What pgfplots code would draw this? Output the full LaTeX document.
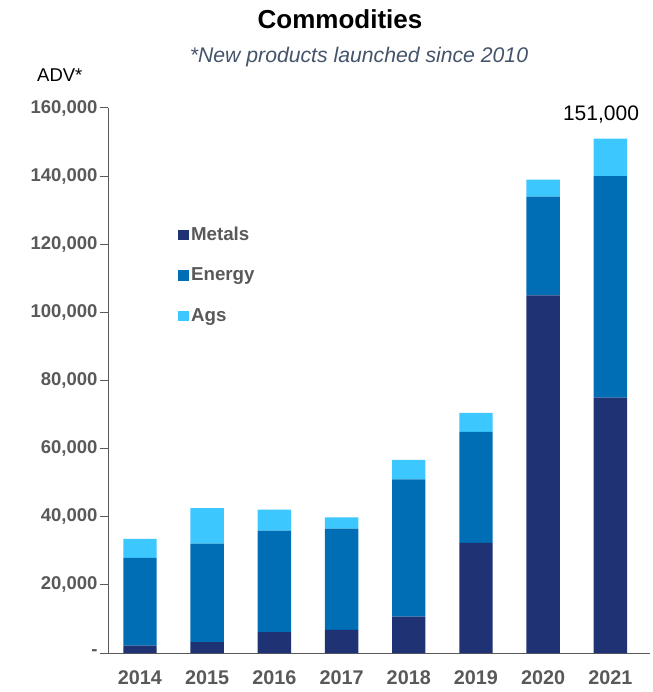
\documentclass[border=0pt]{standalone}
\usepackage{fontspec}
\setmainfont{Liberation Sans}
\usepackage{pgfplots}
\usepackage{pgfplotstable}
\pgfplotsset{compat=1.18}
\definecolor{metals}{HTML}{1F3273}
\definecolor{energy}{HTML}{006EB4}
\definecolor{ags}{HTML}{3CC8FF}
\definecolor{tickgray}{HTML}{595959}
\definecolor{subgray}{HTML}{44546A}
\definecolor{axisgray}{HTML}{595959}
\pgfplotstableread{
x metals energy ags
0 2200 25700 5600
1 3200 28900 10400
2 6100 29800 6200
3 6800 29700 3300
4 10700 40300 5700
5 32300 32600 5600
6 105000 29000 5000
7 75000 65000 11000
}\data
\begin{document}
\begin{tikzpicture}[x=1pt,y=1pt]
\useasboundingbox (0,0) rectangle (652,692);
\begin{axis}[
  at={(108pt,39pt)}, anchor=south west,
  scale only axis, width=542pt, height=545pt,
  ybar stacked, bar width=33.4pt,
  xmin=-0.476, xmax=7.59, ymin=0, ymax=160000,
  axis x line*=bottom, axis y line*=left,
  axis line style={-, draw=axisgray, line width=1pt},
  xtick={0,...,7},
  xticklabels={2014,2015,2016,2017,2018,2019,2020,2021},
  xtick style={draw=none},
  xticklabel style={anchor=base, yshift=-23pt, font=\fontsize{19.8}{22}\selectfont\bfseries, text=tickgray},
  ytick={0,20000,40000,60000,80000,100000,120000,140000,160000},
  yticklabels={{-},{20,000},{40,000},{60,000},{80,000},{100,000},{120,000},{140,000},{160,000}},
  ytick style={draw=axisgray, line width=1pt},
  tick align=outside, major tick length=8pt,
  yticklabel style={anchor=east, xshift=1pt, font=\fontsize{18.5}{22}\selectfont\bfseries, text=tickgray},
  scaled y ticks=false,
  legend style={at={(0.129,0.79)}, anchor=north west, draw=none, fill=none,
    font=\fontsize{18.7}{22}\selectfont\bfseries, text=tickgray,
    row sep=15.5pt, inner sep=0pt,
    nodes={inner sep=2.5pt, text height=15pt, text depth=5pt}},
  legend cell align=left,
]
\addplot[fill=metals, draw=none, legend image code/.code={\fill[metals] (0pt,-5pt) rectangle (10.5pt,5.5pt);}] table[x=x,y=metals]{\data};
\addlegendentry{Metals}
\addplot[fill=energy, draw=none, legend image code/.code={\fill[energy] (0pt,-5pt) rectangle (10.5pt,5.5pt);}] table[x=x,y=energy]{\data};
\addlegendentry{Energy}
\addplot[fill=ags, draw=none, legend image code/.code={\fill[ags] (0pt,-5pt) rectangle (10.5pt,5.5pt);}] table[x=x,y=ags]{\data};
\addlegendentry{Ags}
\end{axis}
\node[anchor=base, font=\fontsize{26}{30}\selectfont\bfseries] at (340,663) {Commodities};
\node[anchor=base, font=\fontsize{21.2}{25}\selectfont\itshape, text=subgray] at (359,629) {*New products launched since 2010};
\node[anchor=base west, inner sep=0pt, font=\fontsize{18.5}{22}\selectfont] at (37,610) {ADV*};
\node[anchor=base, font=\fontsize{21}{25}\selectfont] at (601,571) {151,000};
\end{tikzpicture}
\end{document}
